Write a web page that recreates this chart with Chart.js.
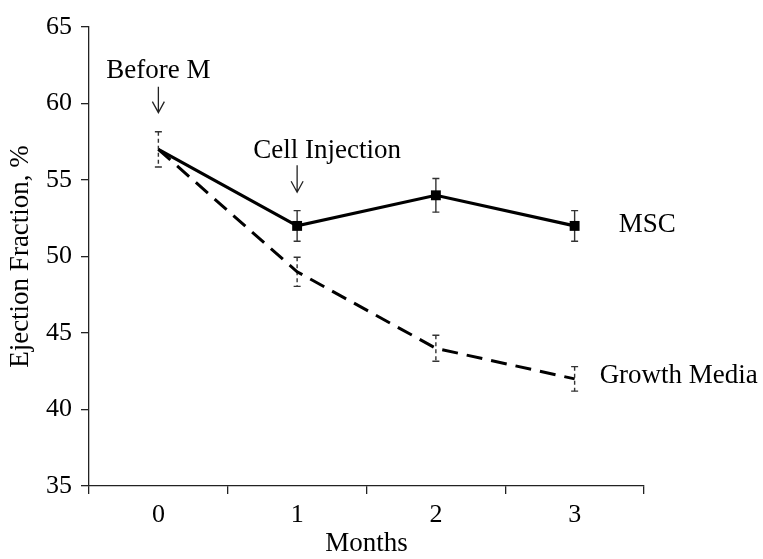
<!DOCTYPE html>
<html>
<head>
<meta charset="utf-8">
<script src="https://cdn.jsdelivr.net/npm/chart.js@4.4.1/dist/chart.umd.min.js"></script>
<style>
  html, body { margin: 0; padding: 0; background: #fff; }
  #wrap { width: 763px; height: 559px; position: relative; }
</style>
</head>
<body>
<div id="wrap"><canvas id="efChart"></canvas></div>
<script>
// values
const months = ['0', '1', '2', '3'];
const mscValues = [57, 52, 54, 52];
const mscErrors = [null, 1.0, 1.1, 1.0];
const mediaValues = [57, 49, 44, 42];
const mediaErrors = [1.15, 0.95, 0.85, 0.8];
const yTicks = [35, 40, 45, 50, 55, 60, 65];

const serif = "'Liberation Serif', 'Times New Roman', serif";
const ink = '#000';

// arrow with open head, tip pointing down
function drawArrow(ctx, px, tipY, len) {
    ctx.beginPath();
    ctx.moveTo(px, tipY - len);
    ctx.lineTo(px, tipY);
    ctx.moveTo(px - 6, tipY - 11);
    ctx.lineTo(px, tipY);
    ctx.lineTo(px + 6, tipY - 11);
    ctx.stroke();
}

// error bars under the lines
const errorBars = {
    id: 'errorBars',
    beforeDatasetsDraw(chart) {
        const { ctx, scales: { x, y } } = chart;
        ctx.save();
        ctx.strokeStyle = '#333';
        ctx.lineWidth = 1.4;
        chart.data.datasets.forEach(ds => {
            ctx.setLineDash(ds.errorDash || []);
            ds.data.forEach((v, i) => {
                const e = ds.errors[i];
                if (e == null) return;
                const px = x.getPixelForValue(i);
                const top = y.getPixelForValue(v + e);
                const bot = y.getPixelForValue(v - e);
                ctx.beginPath();
                ctx.moveTo(px, top);
                ctx.lineTo(px, bot);
                ctx.stroke();
                ctx.save();
                ctx.setLineDash([]);
                ctx.beginPath();
                ctx.moveTo(px - 3.5, top);
                ctx.lineTo(px + 3.5, top);
                ctx.moveTo(px - 3.5, bot);
                ctx.lineTo(px + 3.5, bot);
                ctx.stroke();
                ctx.restore();
            });
        });
        ctx.restore();
    }
};

// text notes, arrows and series names
const notes = {
    id: 'notes',
    afterDraw(chart) {
        const { ctx, scales: { x, y } } = chart;
        ctx.save();
        ctx.fillStyle = ink;
        ctx.strokeStyle = '#222';
        ctx.lineWidth = 1.3;
        ctx.font = '27px ' + serif;
        ctx.textAlign = 'center';
        ctx.textBaseline = 'alphabetic';

        // Before M
        let px = x.getPixelForValue(0);
        let tip = y.getPixelForValue(59.4);
        drawArrow(ctx, px, tip, 26);
        ctx.fillText('Before M', px, tip - 35);

        // Cell Injection
        px = x.getPixelForValue(1);
        tip = y.getPixelForValue(54.2);
        drawArrow(ctx, px, tip, 27);
        ctx.fillText('Cell Injection', px + 30, tip - 34);

        // series names at the right end
        ctx.textAlign = 'left';
        ctx.textBaseline = 'middle';
        const last = months.length - 1;
        const lx = x.getPixelForValue(last);
        ctx.fillText('MSC', lx + 44, y.getPixelForValue(mscValues[last]) - 1);
        ctx.fillText('Growth Media', lx + 25, y.getPixelForValue(mediaValues[last]) - 3);
        ctx.restore();
    }
};

const ctx = document.getElementById('efChart').getContext('2d');

const efChart = new Chart(ctx, {
    type: 'line',
    data: {
        labels: months,
        datasets: [{
            label: 'Growth Media',
            data: mediaValues,
            errors: mediaErrors,
            errorDash: [4, 3],
            borderColor: ink,
            borderWidth: 3,
            borderDash: [16, 9],
            pointRadius: 0,
            tension: 0,
            fill: false
        }, {
            label: 'MSC',
            data: mscValues,
            errors: mscErrors,
            borderColor: ink,
            backgroundColor: ink,
            borderWidth: 3.2,
            pointStyle: 'rect',
            pointRadius: [0, 7, 7, 7],
            pointBorderWidth: 0,
            tension: 0,
            fill: false
        }]
    },
    options: {
        responsive: true,
        maintainAspectRatio: false,
        animation: false,
        layout: { padding: { left: 0, top: 27, right: 119, bottom: 0 } },
        scales: {
            x: {
                offset: true,
                afterFit: scale => { scale.height = 73; },
                grid: {
                    offset: true,
                    drawOnChartArea: false,
                    drawTicks: true,
                    tickLength: 8,
                    color: '#222',
                    lineWidth: 1.3
                },
                border: { display: true, color: '#222', width: 1.3 },
                ticks: {
                    color: ink,
                    padding: 8,
                    font: { family: serif, size: 26, lineHeight: 1 }
                },
                title: {
                    display: true,
                    text: 'Months',
                    color: ink,
                    padding: { top: 0, bottom: 2 },
                    font: { family: serif, size: 27, lineHeight: 1 }
                }
            },
            y: {
                min: 35,
                max: 65,
                afterFit: scale => { scale.width = 89; },
                afterBuildTicks: scale => {
                    scale.ticks = yTicks.map(v => ({ value: v }));
                },
                grid: {
                    drawOnChartArea: false,
                    drawTicks: true,
                    tickLength: 8,
                    color: '#222',
                    lineWidth: 1.3
                },
                border: { display: true, color: '#222', width: 1.3 },
                ticks: {
                    color: ink,
                    padding: 9,
                    font: { family: serif, size: 26, lineHeight: 1 }
                },
                title: {
                    display: true,
                    text: 'Ejection Fraction, %',
                    color: ink,
                    padding: { top: 7, bottom: 0 },
                    font: { family: serif, size: 27, lineHeight: 1 }
                }
            }
        },
        plugins: {
            legend: { display: false },
            tooltip: { enabled: false }
        }
    },
    plugins: [errorBars, notes]
});
</script>
</body>
</html>
